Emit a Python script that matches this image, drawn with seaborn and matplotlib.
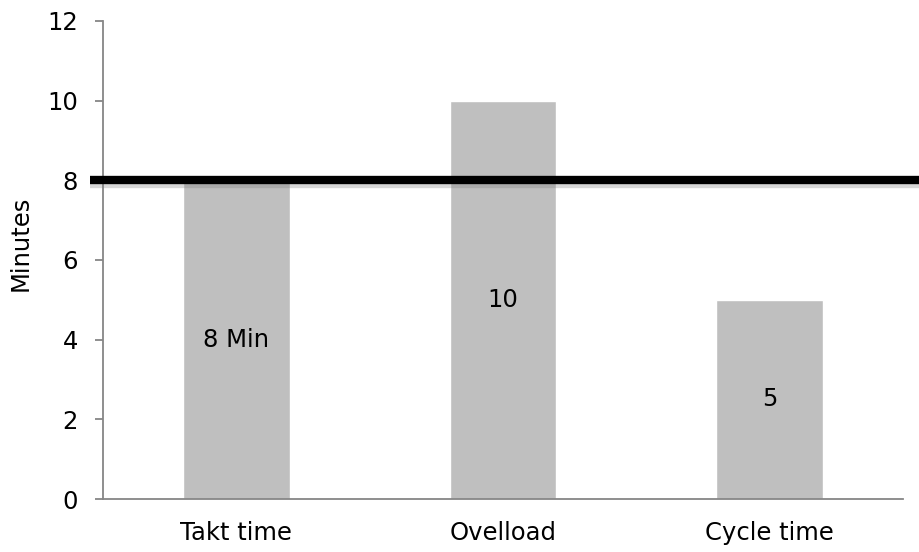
import numpy as np
import pandas as pd
import seaborn as sns
import matplotlib.pyplot as plt
import matplotlib.patheffects as pe

categories = ["Takt time", "Ovelload", "Cycle time"]
minutes = [8, 10, 5]
bar_labels = ["8 Min", "10", "5"]
takt = 8

df = pd.DataFrame({"Category": categories, "Minutes": minutes})

sns.set_style("white")
plt.rcParams["font.family"] = ["DejaVu Sans"]
fs = 17.5

fig = plt.figure(figsize=(9.2, 5.52), dpi=100)
ax = fig.add_axes([0.112, 0.096, 0.8695, 0.866])

sns.barplot(data=df, x="Category", y="Minutes", color="#bfbfbf", width=0.4,
            saturation=1, ax=ax, zorder=2)

for i, (v, lab) in enumerate(zip(minutes, bar_labels)):
    ax.text(i, v / 2, lab, ha="center", va="center", fontsize=fs, color="black", zorder=3)

ax.plot([-0.55, 2.58], [takt, takt], color="black", lw=6, clip_on=False, zorder=4,
        solid_capstyle="butt",
        path_effects=[pe.SimpleLineShadow(offset=(0, -3), shadow_color="gray", alpha=0.3),
                      pe.Normal()])

ax.set_xlim(-0.5, 2.5)
ax.set_ylim(0, 12)
ax.set_yticks(range(0, 13, 2))
ax.set_xlabel("")
ax.set_ylabel("Minutes", fontsize=fs, color="black")
ax.yaxis.set_label_coords(-0.088, 0.535)

for s in ["top", "right"]:
    ax.spines[s].set_visible(False)
for s in ["left", "bottom"]:
    ax.spines[s].set_color("#868686")
    ax.spines[s].set_linewidth(1.3)

ax.set_xticks([-0.5, 0.5, 1.5, 2.5], minor=True)
ax.tick_params(axis="x", which="major", length=0, labelsize=fs, pad=16, labelcolor="black")
ax.tick_params(axis="x", which="minor", length=6, width=1.3, color="#868686", direction="out")
ax.tick_params(axis="y", length=6, width=1.3, color="#868686", direction="out",
               labelsize=fs, pad=12, left=True, labelcolor="black")

fig.savefig("out.png", dpi=100)
